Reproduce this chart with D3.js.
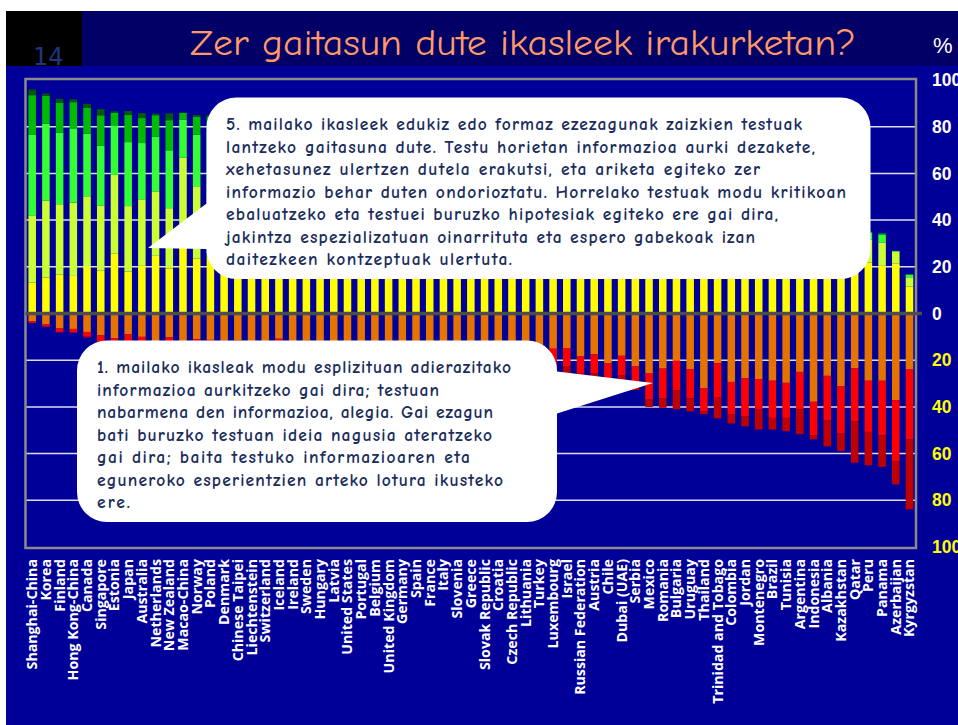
<!DOCTYPE html>
<html>
<head>
<meta charset="utf-8">
<script src="https://cdn.jsdelivr.net/npm/d3@7"></script>
<style>
  body { margin: 0; background: #fff; }
  svg { display: block; }
</style>
</head>
<body>
<div id="chart"></div>
<script>
// PISA 2009 reading proficiency levels, % of students per country
var countries = ["Shanghai-China","Korea","Finland","Hong Kong-China","Canada","Singapore","Estonia","Japan","Australia","Netherlands","New Zealand","Macao-China","Norway","Poland","Denmark","Chinese Taipei","Liechtenstein","Switzerland","Iceland","Ireland","Sweden","Hungary","Latvia","United States","Portugal","Belgium","United Kingdom","Germany","Spain","France","Italy","Slovenia","Greece","Slovak Republic","Croatia","Czech Republic","Lithuania","Turkey","Luxembourg","Israel","Russian Federation","Austria","Chile","Dubai (UAE)","Serbia","Mexico","Romania","Bulgaria","Uruguay","Thailand","Trinidad and Tobago","Colombia","Jordan","Montenegro","Brazil","Tunisia","Argentina","Indonesia","Albania","Kazakhstan","Qatar","Peru","Panama","Azerbaijan","Kyrgyzstan"];

var belowL1b = [0.1,0.2,0.2,0.2,0.4,0.4,0.3,1.3,1.0,0.1,0.9,0.3,0.5,0.6,0.4,0.7,0.0,0.7,1.4,1.5,1.5,0.5,0.4,0.6,0.6,1.1,1.0,0.8,1.2,2.3,1.4,0.8,1.6,0.8,1.0,0.8,1.0,0.8,3.1,3.9,1.6,1.9,1.0,2.8,2.0,3.2,4.1,8.0,5.5,1.3,9.1,4.0,4.3,8.6,5.0,5.7,10.7,1.8,11.2,7.7,17.8,14.3,13.6,10.0,30.0];
var level1b = [0.6,0.9,1.5,1.5,2.0,2.7,2.4,3.4,3.3,1.8,3.2,2.6,3.4,3.1,3.1,3.5,2.8,4.1,4.6,3.9,4.3,4.4,3.3,4.5,4.0,4.7,4.1,5.2,4.7,5.6,5.2,5.2,5.6,5.6,5.0,6.2,5.1,5.7,7.9,7.7,7.4,8.1,8.3,8.5,8.1,11.4,12.7,12.9,12.5,9.7,14.5,13.8,16.2,13.0,15.9,15.0,16.0,14.3,19.0,20.1,22.6,21.9,23.3,26.1,29.9];
var level1a = [3.4,4.7,6.4,6.6,7.9,9.3,10.6,8.9,10.0,12.5,10.2,12.0,11.0,11.3,11.7,11.4,12.8,12.1,10.8,11.8,11.7,12.8,13.9,12.6,13.0,11.9,13.4,12.5,13.6,11.8,14.4,15.2,14.1,15.9,16.5,16.3,17.7,18.1,15.1,14.8,18.4,17.5,21.4,18.1,22.7,25.5,23.6,20.1,23.9,32.1,21.3,29.3,27.8,28.1,28.8,29.7,25.0,37.8,26.7,31.1,23.5,28.8,28.8,37.1,24.0];
var level2 = [13.3,15.4,16.7,16.1,20.2,18.5,25.6,18.0,20.4,24.7,19.3,30.6,23.6,24.5,26.0,24.6,24.8,22.7,20.9,23.3,23.5,25.2,28.8,24.4,26.4,20.3,24.9,22.2,26.8,21.1,24.0,25.6,25.6,28.1,27.8,27.4,30.5,32.2,23.6,22.5,29.2,24.1,33.2,24.4,33.2,33.0,31.6,24.9,28.0,36.6,23.6,30.6,31.0,28.0,26.8,30.5,25.9,34.3,25.2,23.6,19.8,21.8,20.4,21.5,11.5];
var level3 = [28.5,33.0,30.1,31.4,30.0,27.6,33.8,28.0,28.5,27.6,25.8,36.1,30.9,31.0,33.1,33.5,31.3,29.7,30.2,30.6,29.8,30.6,33.5,27.6,31.6,25.8,28.8,28.8,32.6,27.2,28.9,29.2,29.3,28.5,30.1,27.0,28.6,29.1,27.1,25.5,27.5,26.0,25.6,24.7,25.3,21.2,21.8,20.8,20.3,16.9,19.7,17.5,17.3,17.0,15.6,15.8,16.4,10.4,13.6,12.6,10.6,9.8,10.0,4.9,4.0];
var level4 = [34.7,32.9,30.6,31.8,26.8,25.7,21.2,27.4,24.1,23.5,24.8,16.4,22.1,22.3,20.9,21.0,23.1,22.6,23.8,21.9,20.3,20.2,17.2,20.6,19.6,24.9,19.8,22.8,17.7,22.4,20.2,19.3,18.2,16.7,16.3,17.4,14.3,12.4,18.3,18.1,12.9,17.4,9.3,16.2,8.1,5.3,5.6,10.6,8.5,3.2,9.3,4.3,3.3,4.8,6.8,3.1,5.2,1.4,3.9,4.3,4.7,3.0,3.3,0.4,1.1];
var level5 = [17.0,11.9,12.9,11.2,11.0,13.1,5.4,11.6,10.7,9.1,12.9,2.8,7.6,6.5,4.4,4.8,5.1,7.4,7.5,6.3,7.7,5.8,2.8,8.4,4.6,10.1,7.0,7.0,3.2,8.5,5.4,4.3,5.0,4.2,3.2,4.7,2.6,1.8,4.9,6.4,2.8,4.5,1.3,4.9,0.7,0.4,0.6,2.5,1.2,0.2,2.1,0.5,0.1,0.5,1.1,0.2,0.8,0.0,0.4,0.6,1.0,0.4,0.6,0.0,0.2];
var level6 = [2.4,1.0,1.6,1.2,1.8,2.6,0.6,1.7,2.1,0.7,2.9,0.1,0.8,0.7,0.3,0.4,0.3,0.7,0.8,0.7,1.3,0.5,0.1,1.5,0.2,1.1,1.0,0.6,0.2,1.1,0.4,0.3,0.6,0.3,0.1,0.4,0.1,0.0,0.2,1.0,0.2,0.4,0.0,0.5,0.0,0.0,0.0,0.2,0.1,0.0,0.4,0.0,0.0,0.0,0.0,0.0,0.0,0.0,0.0,0.0,0.1,0.0,0.0,0.0,0.0];

var yTicks = [100, 80, 60, 40, 20, 0, -20, -40, -60, -80, -100];

var topText = [
  "5. mailako ikasleek edukiz edo formaz ezezagunak zaizkien testuak",
  "lantzeko gaitasuna dute. Testu horietan informazioa aurki dezakete,",
  "xehetasunez ulertzen dutela erakutsi, eta ariketa egiteko zer",
  "informazio behar duten ondorioztatu. Horrelako testuak modu kritikoan",
  "ebaluatzeko eta testuei buruzko hipotesiak egiteko ere gai dira,",
  "jakintza espezializatuan oinarrituta eta espero gabekoak izan",
  "daitezkeen kontzeptuak ulertuta."
];
var bottomText = [
  "1. mailako ikasleak modu esplizituan adierazitako",
  "informazioa aurkitzeko gai dira; testuan",
  "nabarmena den informazioa, alegia. Gai ezagun",
  "bati buruzko testuan ideia nagusia ateratzeko",
  "gai dira; baita testuko informazioaren eta",
  "eguneroko esperientzien arteko lotura ikusteko",
  "ere."
];

// negatives stack downward from zero: 1a first, then 1b, then below 1b
var keys = ["level1a", "level1b", "belowL1b", "level2", "level3", "level4", "level5", "level6"];
var colors = {
  belowL1b: "#c00000", level1b: "#ff0000", level1a: "#e67300",
  level2: "#ffff00", level3: "#ccff33", level4: "#33ff33", level5: "#00bb00", level6: "#005c00"
};

var rows = countries.map(function(c, i) {
  return {
    country: c,
    level1a: -level1a[i], level1b: -level1b[i], belowL1b: -belowL1b[i],
    level2: level2[i], level3: level3[i], level4: level4[i], level5: level5[i], level6: level6[i]
  };
});

var W = 958, H = 725;
var svg = d3.select("#chart").append("svg")
  .attr("width", W)
  .attr("height", H);

var comic = "'Comic Sans MS', 'Comic Neue', 'DejaVu Sans', sans-serif";

// slide background
svg.append("rect").attr("width", W).attr("height", H).attr("fill", "#fff");
svg.append("rect").attr("x", 6).attr("y", 11).attr("width", W - 6).attr("height", H - 11).attr("fill", "#000099");
svg.append("rect").attr("x", 6).attr("y", 11).attr("width", W - 6).attr("height", 55).attr("fill", "#000066");
svg.append("rect").attr("x", 6).attr("y", 11).attr("width", 76).attr("height", 55).attr("fill", "#000");
svg.append("text")
  .attr("x", 33).attr("y", 65)
  .attr("fill", "#1f3580")
  .style("font-family", "'DejaVu Sans', sans-serif")
  .style("font-size", "24px")
  .text("14");

// title
svg.append("text")
  .attr("x", 523).attr("y", 55)
  .attr("text-anchor", "middle")
  .attr("fill", "#ff9966")
  .attr("textLength", 666)
  .attr("lengthAdjust", "spacingAndGlyphs")
  .style("font-family", comic)
  .style("font-size", "37px")
  .text("Zer gaitasun dute ikasleek irakurketan?");

// scales
var x = d3.scaleBand()
  .domain(countries)
  .range([25.35, 916.35])
  .paddingInner(0.45)
  .paddingOuter(0.225);

var y = d3.scaleLinear()
  .domain([-100, 100])
  .range([547, 80]);

var frameX0 = 25.5, frameX1 = 916;

// gridlines
svg.append("g")
  .selectAll("line")
  .data(yTicks.filter(function(d) { return d !== 0 && Math.abs(d) !== 100; }))
  .enter().append("line")
    .attr("x1", frameX0).attr("x2", frameX1)
    .attr("y1", function(d) { return y(d); })
    .attr("y2", function(d) { return y(d); })
    .attr("stroke", "#dcdcf0")
    .attr("stroke-width", 1.5);

// bars
var series = d3.stack()
  .keys(keys)
  .offset(d3.stackOffsetDiverging)(rows);

svg.append("g")
  .selectAll("g")
  .data(series)
  .enter().append("g")
    .attr("fill", function(d) { return colors[d.key]; })
  .selectAll("rect")
  .data(function(d) { return d; })
  .enter().append("rect")
    .attr("x", function(d) { return x(d.data.country); })
    .attr("width", x.bandwidth())
    .attr("y", function(d) { return y(Math.max(d[0], d[1])); })
    .attr("height", function(d) { return Math.abs(y(d[0]) - y(d[1])); });

// frame
svg.append("rect")
  .attr("x", frameX0).attr("y", y(100) - 1)
  .attr("width", frameX1 - frameX0).attr("height", y(-100) - y(100) + 2)
  .attr("fill", "none")
  .attr("stroke", "#8a8a8a")
  .attr("stroke-width", 2.5);

// zero line
svg.append("line")
  .attr("x1", frameX0).attr("x2", 922)
  .attr("y1", y(0)).attr("y2", y(0))
  .attr("stroke", "#4d4d4d")
  .attr("stroke-width", 3.5);

// right axis (the 100 labels run off the slide edge, as in the original)
var yAxis = svg.append("g")
  .attr("transform", "translate(926,0)")
  .call(d3.axisRight(y).tickValues(yTicks).tickSize(0).tickPadding(6)
    .tickFormat(function(d) { return Math.abs(d); }));
yAxis.select(".domain").remove();
yAxis.selectAll("text")
  .attr("fill", function(d) { return d < 0 ? "#ffff00" : "#ffffff"; })
  .style("font-family", "'Liberation Sans', Arial, sans-serif")
  .style("font-weight", "bold")
  .style("font-size", "17.5px");

svg.append("text")
  .attr("x", 933).attr("y", 53)
  .attr("fill", "#fff")
  .style("font-family", "'Liberation Sans', Arial, sans-serif")
  .style("font-size", "22px")
  .text("%");

// country labels
svg.append("g")
  .selectAll("text")
  .data(countries)
  .enter().append("text")
    .attr("transform", function(d) {
      return "translate(" + (x(d) + x.bandwidth() / 2) + ",559) rotate(-90)";
    })
    .attr("dy", "0.35em")
    .attr("text-anchor", "end")
    .attr("fill", "#fff")
    .style("font-family", "'Open Sans', sans-serif")
    .style("font-weight", "bold")
    .style("font-size", "14.2px")
    .text(function(d) { return d; });

// callouts
function calloutPath(b) {
  var x0 = b.x, y0 = b.y, x1 = b.x + b.w, y1 = b.y + b.h, r = b.r;
  var p = d3.path();
  p.moveTo(x0 + r, y0);
  p.lineTo(x1 - r, y0);
  p.arcTo(x1, y0, x1, y0 + r, r);
  if (b.side === "right") {
    p.lineTo(x1, y0 + b.b1);
    p.lineTo(b.tip[0], b.tip[1]);
    p.lineTo(x1, y0 + b.b2);
  }
  p.lineTo(x1, y1 - r);
  p.arcTo(x1, y1, x1 - r, y1, r);
  p.lineTo(x0 + r, y1);
  p.arcTo(x0, y1, x0, y1 - r, r);
  if (b.side === "left") {
    p.lineTo(x0, y0 + b.b2);
    p.lineTo(b.tip[0], b.tip[1]);
    p.lineTo(x0, y0 + b.b1);
  }
  p.lineTo(x0, y0 + r);
  p.arcTo(x0, y0, x0 + r, y0, r);
  p.closePath();
  return p.toString();
}

var callouts = [
  { x: 206.5, y: 97.5, w: 664, h: 181.5, r: 30, side: "left", b1: 106, b2: 151.5, tip: [148, 248],
    lines: topText, tx: 226, ty: 130, widths: [576, 589, 534, 620, 552, 529, 286] },
  { x: 77, y: 340.5, w: 480, h: 181.5, r: 30, side: "right", b1: 31, b2: 73, tip: [653, 383],
    lines: bottomText, tx: 97, ty: 373, widths: [414, 342, 396, 395, 373, 406, 33] }
];

callouts.forEach(function(b) {
  var g = svg.append("g");
  g.append("path")
    .attr("d", calloutPath(b))
    .attr("fill", "#fff");
  g.selectAll("text")
    .data(b.lines)
    .enter().append("text")
      .attr("x", b.tx)
      .attr("y", function(d, i) { return b.ty + i * 22.5; })
      .attr("textLength", function(d, i) { return b.widths[i]; })
      .attr("lengthAdjust", "spacing")
      .attr("fill", "#1a2d5c")
      .style("font-family", comic)
      .style("font-size", "17.5px")
      .style("font-weight", "600")
      .text(function(d) { return d; });
});
</script>
</body>
</html>
